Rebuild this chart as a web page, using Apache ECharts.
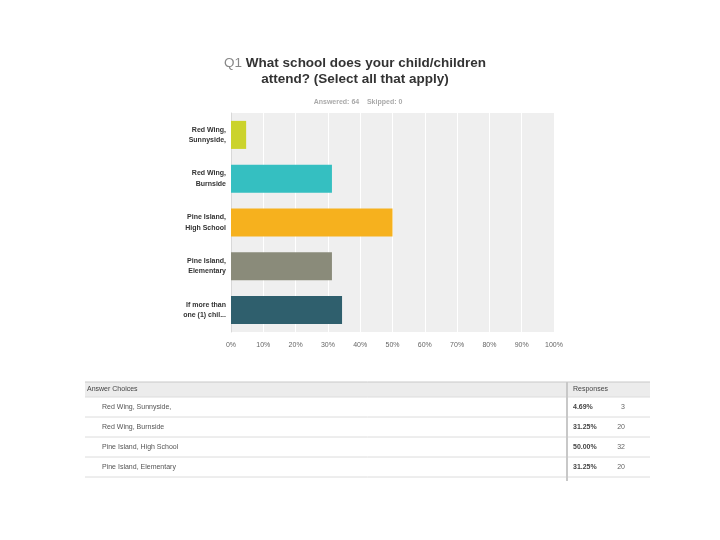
<!DOCTYPE html>
<html><head><meta charset="utf-8">
<script src="https://cdn.jsdelivr.net/npm/echarts@6/dist/echarts.min.js"></script>
<style>html,body{margin:0;padding:0;background:#fff}#c{width:720px;height:540px}</style>
</head><body><div id="c"></div>
<script>
const categories = ['Red Wing,\nSunnyside,', 'Red Wing,\nBurnside', 'Pine Island,\nHigh School', 'Pine Island,\nElementary', 'If more than\none (1) chil...'];
const values = [4.69, 31.25, 50.00, 31.25, 34.38];
const counts = [3, 20, 32, 20, 22];
const colors = ['#cbd32c', '#35bfc1', '#f6b11e', '#8a8b7a', '#2f5f6d'];
const tableLabels = ['Red Wing, Sunnyside,', 'Red Wing, Burnside', 'Pine Island, High School', 'Pine Island, Elementary', 'If more than one (1) child...'];
const xTicks = [0, 10, 20, 30, 40, 50, 60, 70, 80, 90, 100];

const chart = echarts.init(document.getElementById('c'));

const g = [];
// table header
g.push({type:'rect', shape:{x:85, y:382, width:565, height:15}, style:{fill:'#ececec'}});
g.push({type:'line', shape:{x1:85, y1:382, x2:650, y2:382}, style:{stroke:'#c8c8c8', lineWidth:1}});
g.push({type:'text', x:87, y:389.5, style:{text:'Answer Choices', fill:'#444', font:'7px "Liberation Sans", Arial', verticalAlign:'middle'}});
g.push({type:'text', x:573, y:389.5, style:{text:'Responses', fill:'#444', font:'7px "Liberation Sans", Arial', verticalAlign:'middle'}});
tableLabels.forEach((t, i) => {
  const y0 = 397 + i * 20;
  g.push({type:'line', shape:{x1:85, y1:y0, x2:650, y2:y0}, style:{stroke:'#dcdcdc', lineWidth:1}});
  const yc = y0 + 10.5;
  g.push({type:'text', x:102, y:yc, style:{text:t, fill:'#555', font:'7px "Liberation Sans", Arial', verticalAlign:'middle'}});
  g.push({type:'text', x:573, y:yc, style:{text:values[i].toFixed(2) + '%', fill:'#444', font:'bold 7px "Liberation Sans", Arial', verticalAlign:'middle'}});
  g.push({type:'text', x:625, y:yc, style:{text:String(counts[i]), fill:'#666', font:'7px "Liberation Sans", Arial', align:'right', verticalAlign:'middle'}});
});
g.push({type:'line', shape:{x1:567, y1:382, x2:567, y2:482}, style:{stroke:'#c8c8c8', lineWidth:2}});
// page crop
g.push({type:'rect', shape:{x:0, y:481, width:720, height:59}, style:{fill:'#fff'}, z:100});

chart.setOption({
  animation: false,
  backgroundColor: '#fff',
  title: [{
    text: '{q|Q1} What school does your child/children\nattend? (Select all that apply)',
    left: 350, top: 50, textAlign: 'center',
    textStyle: {fontSize: 13.5, fontWeight: 'bold', color: '#333', lineHeight: 16.5, fontFamily: 'Liberation Sans, Arial',
      rich: {q: {fontSize: 13.5, fontWeight: 'normal', color: '#888', fontFamily: 'Liberation Sans, Arial'}}}
  }, {
    text: 'Answered: 64    Skipped: 0',
    left: 353, top: 94, textAlign: 'center',
    textStyle: {fontSize: 7, fontWeight: 'bold', color: '#aaa', fontFamily: 'Liberation Sans, Arial'}
  }],
  grid: {left: 231, top: 113, width: 323, height: 219, containLabel: false, show: true, backgroundColor: '#efefef', borderWidth: 0},
  xAxis: {
    type: 'value', min: 0, max: 100, interval: 10,
    axisLine: {show: false}, axisTick: {show: false},
    splitLine: {show: true, lineStyle: {color: '#ffffff', width: 1}},
    axisLabel: {formatter: '{value}%', color: '#666', fontSize: 7, margin: 10, fontFamily: 'Liberation Sans, Arial'}
  },
  yAxis: {
    type: 'category', data: categories, inverse: true,
    axisLine: {show: true, lineStyle: {color: '#d8d8d8'}}, axisTick: {show: false},
    axisLabel: {color: '#333', fontSize: 7, fontWeight: 'bold', lineHeight: 10.5, margin: 5, fontFamily: 'Liberation Sans, Arial'}
  },
  series: [{
    type: 'bar', barWidth: '64%',
    data: values.map((v, i) => ({value: v, itemStyle: {color: colors[i]}}))
  }],
  graphic: g
});
</script></body></html>
